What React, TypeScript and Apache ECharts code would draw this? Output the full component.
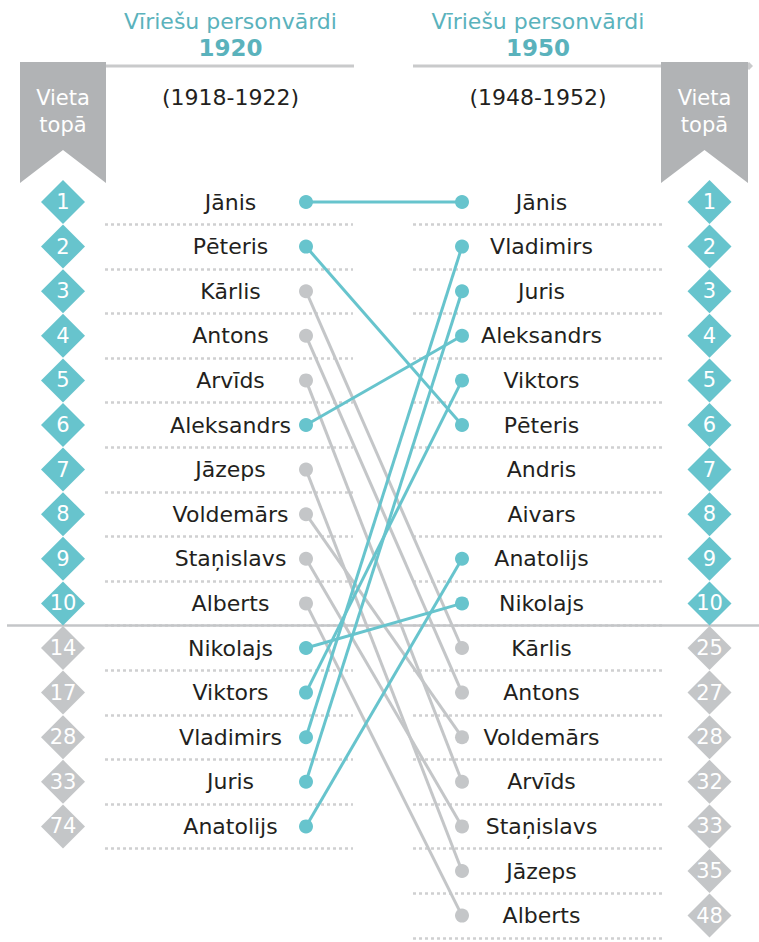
import React, { useEffect, useRef } from "react";
import * as echarts from "echarts";

const names1920 = ["Jānis", "Pēteris", "Kārlis", "Antons", "Arvīds", "Aleksandrs", "Jāzeps", "Voldemārs", "Staņislavs", "Alberts", "Nikolajs", "Viktors", "Vladimirs", "Juris", "Anatolijs"];
const ranks1920 = [1, 2, 3, 4, 5, 6, 7, 8, 9, 10, 14, 17, 28, 33, 74];
const names1950 = ["Jānis", "Vladimirs", "Juris", "Aleksandrs", "Viktors", "Pēteris", "Andris", "Aivars", "Anatolijs", "Nikolajs", "Kārlis", "Antons", "Voldemārs", "Arvīds", "Staņislavs", "Jāzeps", "Alberts"];
const ranks1950 = [1, 2, 3, 4, 5, 6, 7, 8, 9, 10, 25, 27, 28, 32, 33, 35, 48];

const TEAL = "#67c4cd";
const GREY = "#c4c6c8";
const HEAD = "#5ab2bc";
const FONT = "DejaVu Sans";

// layout (pixels)
const W = 759, H = 942;
const ROW0 = 202, ROWH = 44.6;
const XL = 306, XR = 462, XU = XR - XL;
const px = (p: number) => (p - XL) / XU;

export default function App() {
  const ref = useRef<HTMLDivElement>(null);
  useEffect(() => {
    const chart = echarts.init(ref.current!, null, { renderer: "svg" });
    const series: any[] = [];

    // dotted separators
    const dotted: any[] = [];
    names1920.forEach((_, i) => dotted.push({ coords: [[px(105), i + 0.5], [px(353), i + 0.5]] }));
    names1950.forEach((_, i) => dotted.push({ coords: [[px(413), i + 0.5], [px(662), i + 0.5]] }));
    series.push({
      type: "lines", coordinateSystem: "cartesian2d", silent: true, z: 1,
      lineStyle: { color: "#cfd0d1", width: 2.5, type: [3, 3], opacity: 1 },
      data: dotted,
    });
    // top-10 separator
    series.push({
      type: "lines", coordinateSystem: "cartesian2d", silent: true, z: 1,
      lineStyle: { color: GREY, width: 2.5, type: "solid", opacity: 1 },
      data: [{ coords: [[px(7), 9.5], [px(759), 9.5]] }],
    });

    // connecting lines
    const conns = names1920.map((n, i) => {
      const j = names1950.indexOf(n);
      return { n, i, j, top: ranks1950[j] <= 10 };
    });
    [...conns.filter((c) => !c.top), ...conns.filter((c) => c.top)].forEach((c) => {
      const col = c.top ? TEAL : GREY;
      series.push({
        type: "line", name: c.n, z: c.top ? 4 : 3,
        data: [[0, c.i], [1, c.j]],
        symbol: "circle", symbolSize: 14, showSymbol: true,
        lineStyle: { color: col, width: 3 }, itemStyle: { color: col, opacity: 1 },
      });
    });

    // names
    const nameLabel = { show: true, position: "inside", color: "#231f20", fontSize: 22, fontFamily: FONT, formatter: (p: any) => p.data.name };
    series.push({
      type: "scatter", symbolSize: 1, itemStyle: { color: "rgba(0,0,0,0)", opacity: 1 }, z: 5,
      label: nameLabel,
      data: names1920.map((n, i) => ({ name: n, value: [px(230.5), i] })),
    });
    series.push({
      type: "scatter", symbolSize: 1, itemStyle: { color: "rgba(0,0,0,0)", opacity: 1 }, z: 5,
      label: nameLabel,
      data: names1950.map((n, i) => ({ name: n, value: [px(541.5), i] })),
    });

    // rank diamonds
    const diamondLabel = { show: true, position: "inside", color: "#fff", fontSize: 21, fontFamily: FONT, formatter: (p: any) => p.data.name };
    series.push({
      type: "scatter", symbol: "diamond", symbolSize: 44, z: 5,
      label: diamondLabel,
      data: ranks1920.map((r, i) => ({ name: String(r), value: [px(63), i], itemStyle: { color: r <= 10 ? TEAL : GREY, opacity: 1 } })),
    });
    series.push({
      type: "scatter", symbol: "diamond", symbolSize: 44, z: 5,
      label: diamondLabel,
      data: ranks1950.map((r, i) => ({ name: String(r), value: [px(709.5), i], itemStyle: { color: r <= 10 ? TEAL : GREY, opacity: 1 } })),
    });

    const banner = (x0: number, x1: number) => {
      const cx = (x0 + x1) / 2;
      return [
        { type: "polygon", shape: { points: [[x0, 62], [x1, 62], [x1, 183], [cx, 150], [x0, 183]] }, style: { fill: "#b1b3b5" } },
        { type: "text", x: cx, y: 98, style: { text: "Vieta", fill: "#fff", fontSize: 21, fontFamily: FONT, align: "center", verticalAlign: "middle" } },
        { type: "text", x: cx, y: 125, style: { text: "topā", fill: "#fff", fontSize: 21, fontFamily: FONT, align: "center", verticalAlign: "middle" } },
      ];
    };
    const header = (cx: number, year: string, range: string) => [
      { type: "text", x: cx, y: 21, style: { text: "Vīriešu personvārdi", fill: HEAD, fontSize: 22, fontFamily: FONT, align: "center", verticalAlign: "middle" } },
      { type: "text", x: cx, y: 48, style: { text: year, fill: HEAD, fontSize: 23, fontWeight: "bold", fontFamily: FONT, align: "center", verticalAlign: "middle" } },
      { type: "text", x: cx, y: 97, style: { text: range, fill: "#231f20", fontSize: 22, fontFamily: FONT, align: "center", verticalAlign: "middle" } },
    ];

    chart.setOption({
      animation: false,
      textStyle: { fontFamily: FONT },
      grid: { left: 0, right: 0, top: 0, bottom: 0 },
      xAxis: { type: "value", min: px(0), max: px(W), show: false },
      yAxis: { type: "value", inverse: true, min: -ROW0 / ROWH, max: (H - ROW0) / ROWH, show: false },
      graphic: [
        { type: "line", shape: { x1: 106, y1: 66, x2: 354, y2: 66 }, style: { stroke: "#c9cacb", lineWidth: 3 } },
        { type: "line", shape: { x1: 413, y1: 66, x2: 748, y2: 66 }, style: { stroke: "#c9cacb", lineWidth: 3 } },
        { type: "polygon", shape: { points: [[749, 62], [753, 66], [749, 70], [745, 66]] }, style: { fill: "#c9cacb" } },
        ...banner(20, 106),
        ...banner(661, 748),
        ...header(230.5, "1920", "(1918-1922)"),
        ...header(538, "1950", "(1948-1952)"),
      ],
      series,
    });
    return () => chart.dispose();
  }, []);
  return <div ref={ref} style={{ position: "absolute", left: 0, top: 0, width: W, height: H }} />;
}
